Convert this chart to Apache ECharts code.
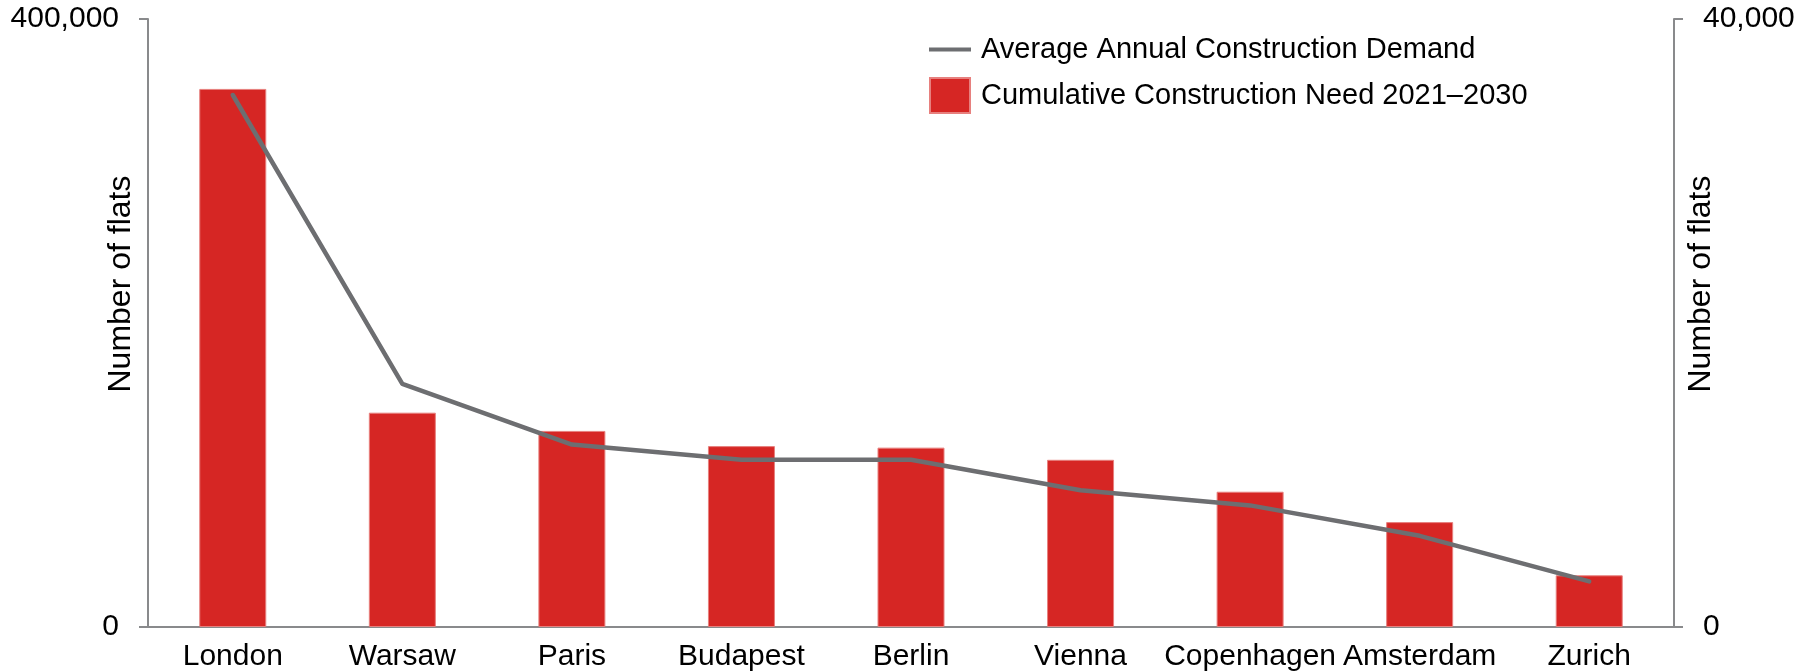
<!DOCTYPE html>
<html>
<head>
<meta charset="utf-8">
<style>
  html, body { margin: 0; padding: 0; background: #fff; }
  #chart { width: 1812px; height: 672px; }
</style>
<script src="https://cdn.jsdelivr.net/npm/echarts@6/dist/echarts.min.js"></script>
</head>
<body>
<div id="chart"></div>
<script>
// data
var cities = ['London', 'Warsaw', 'Paris', 'Budapest', 'Berlin', 'Vienna', 'Copenhagen', 'Amsterdam', 'Zurich']
var cumulativeNeed = [354000, 141000, 129000, 119000, 118000, 110000, 89000, 69000, 34000]
var annualDemand = [35000, 16000, 12000, 11000, 11000, 9000, 8000, 6000, 3000]
var leftTicks = [0, 400000]
var rightTicks = [0, 40000]

var barName = 'Cumulative Construction Need 2021–2030'
var lineName = 'Average Annual Construction Demand'

var FONT = "'Liberation Sans', Arial, sans-serif"
var AXIS_GREY = '#898a8c'

var chart = echarts.init(document.getElementById('chart'))

var fmt = function (v) { return Number(v).toLocaleString('en-US') }

var yAxisBase = function (ticks, pos) {
  return {
    type: 'value',
    position: pos,
    min: ticks[0],
    max: ticks[ticks.length - 1],
    interval: ticks[1] - ticks[0],
    name: 'Number of flats',
    nameLocation: 'middle',
    nameRotate: 90,
    nameGap: 11,
    nameMoveOverlap: false,
    nameTextStyle: { fontFamily: FONT, fontSize: 32, color: '#000', padding: [0, 0, 0, 78] },
    axisLine: { show: true, lineStyle: { color: AXIS_GREY, width: 2 } },
    axisTick: { show: true, inside: false, length: 9, lineStyle: { color: AXIS_GREY, width: 2 } },
    axisLabel: { fontFamily: FONT, fontSize: 30, color: '#000', margin: 29, formatter: fmt },
    splitLine: { show: false }
  }
}

var option = {
  animation: false,
  backgroundColor: '#fff',
  grid: { left: 148, right: 138, top: 19, bottom: 45, containLabel: false, outerBoundsMode: 'none' },
  legend: [
    {
      data: [lineName],
      left: 929,
      top: 35,
      icon: 'rect',
      itemWidth: 42,
      itemHeight: 4,
      padding: 0,
      itemStyle: { color: '#6d6e71' },
      textStyle: { fontFamily: FONT, fontSize: 29, color: '#000', padding: [0, 0, 0, 5] }
    },
    {
      data: [barName],
      left: 929,
      top: 77,
      icon: 'rect',
      itemWidth: 40,
      itemHeight: 35,
      padding: 0,
      textStyle: { fontFamily: FONT, fontSize: 29, color: '#000', padding: [0, 0, 0, 6] }
    }
  ],
  xAxis: {
    type: 'category',
    data: cities,
    axisLine: { lineStyle: { color: AXIS_GREY, width: 2 } },
    axisTick: { show: false },
    axisLabel: { fontFamily: FONT, fontSize: 30, color: '#000', margin: 15, interval: 0 }
  },
  yAxis: [yAxisBase(leftTicks, 'left'), yAxisBase(rightTicks, 'right')],
  series: [
    {
      name: barName,
      type: 'bar',
      data: cumulativeNeed,
      barWidth: 67,
      itemStyle: { color: '#d62624', borderColor: '#e7807e', borderWidth: 1 }
    },
    {
      name: lineName,
      type: 'line',
      yAxisIndex: 1,
      data: annualDemand,
      symbol: 'none',
      lineStyle: { color: '#6d6e71', width: 4.5, cap: 'round', join: 'round' },
      itemStyle: { color: '#6d6e71' }
    }
  ]
}

chart.setOption(option)
</script>
</body>
</html>
